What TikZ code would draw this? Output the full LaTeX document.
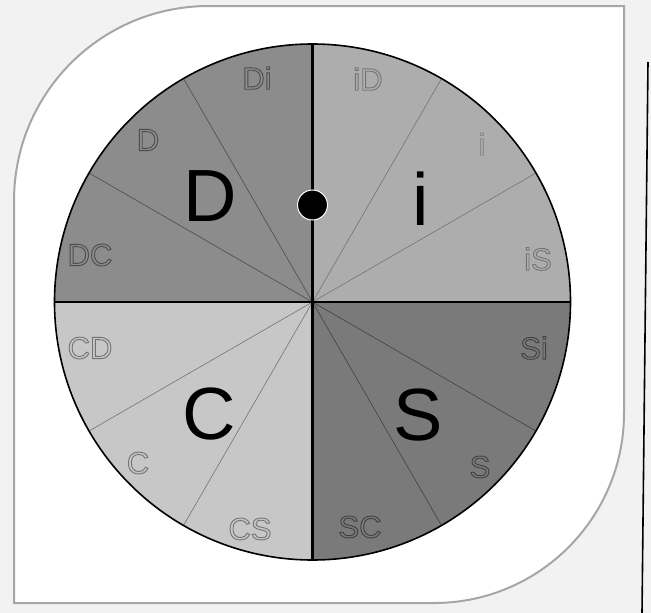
\documentclass[tikz,border=0pt]{standalone}
\usepackage{fontspec}
\setmainfont{Liberation Sans}
\colorlet{qD}{black!45}
\colorlet{qI}{black!32}
\colorlet{qC}{black!22}
\colorlet{qS}{black!52}
\colorlet{oD}{black!70}
\colorlet{oI}{black!55}
\colorlet{oC}{black!55}
\colorlet{oS}{black!75}
\newcommand\outlinetxt[1]{\special{pdf:literal direct 1 Tr 0.9 w}#1\special{pdf:literal direct 0 Tr}}
\begin{document}
\begin{tikzpicture}[x=1pt,y=-1pt,
  big/.style={inner sep=0pt, font=\fontsize{74}{74}\selectfont},
  small/.style={inner sep=0pt, font=\fontsize{31}{31}\selectfont},
  radial/.style={line width=0.6pt},
  frameline/.style={draw=black!35, line width=2pt}]
\useasboundingbox (0,0) rectangle (651,613);
\fill[black!5] (0,0) rectangle (651,613);
% card
\path[fill=white, frameline] (14,201) .. controls (14,93) and (101,6) .. (209,6)
  -- (624,6) -- (624,413) .. controls (624,518) and (539,603) .. (434,603)
  -- (14,603) -- cycle;
\draw[line width=1.6pt] (648,62) -- (642,613);
% disc
\coordinate (O) at (312.5,302);
\fill[qI] (O) -- ++(0:258pt) arc[start angle=0, end angle=90, radius=258pt] -- cycle;
\fill[qD] (O) -- ++(90:258pt) arc[start angle=90, end angle=180, radius=258pt] -- cycle;
\fill[qC] (O) -- ++(180:258pt) arc[start angle=180, end angle=270, radius=258pt] -- cycle;
\fill[qS] (O) -- ++(270:258pt) arc[start angle=270, end angle=360, radius=258pt] -- cycle;
\foreach \a in {120,150}{\draw[radial, oD] (O) -- ++(\a:258pt);}
\foreach \a in {30,60}{\draw[radial, oI] (O) -- ++(\a:258pt);}
\foreach \a in {210,240}{\draw[radial, oC] (O) -- ++(\a:258pt);}
\foreach \a in {300,330}{\draw[radial, oS] (O) -- ++(\a:258pt);}
\coordinate (T) at (312.5,44);
\coordinate (B) at (312.5,560);
\coordinate (L) at (54.5,302);
\coordinate (R) at (570.5,302);
\draw[line width=2.2pt] (T) -- (B);
\draw[line width=2.2pt] (L) -- (R);
\draw[line width=1.6pt] (O) circle[radius=258pt];
% small labels (hollow letters)
\node[small, text=oD] (lDi) at (257,78) {\outlinetxt{Di}};
\node[small, text=oD] (lD) at (148,140) {\outlinetxt{D}};
\node[small, text=oD] (lDC) at (90,255) {\outlinetxt{DC}};
\node[small, text=oI] (liD) at (368,79) {\outlinetxt{iD}};
\node[small, text=qI!80!black] (li) at (482,144) {\outlinetxt{i}};
\node[small, text=oI] (liS) at (538,259) {\outlinetxt{iS}};
\node[small, text=oS] (lSi) at (534,348) {\outlinetxt{Si}};
\node[small, text=oS] (lS) at (480,467) {\outlinetxt{S}};
\node[small, text=oS] (lSC) at (360,527) {\outlinetxt{SC}};
\node[small, text=oC] (lCS) at (250,529) {\outlinetxt{CS}};
\node[small, text=oC] (lC) at (138,463) {\outlinetxt{C}};
\node[small, text=oC] (lCD) at (90,348) {\outlinetxt{CD}};
% big letters
\node[big] (bD) at (210,196) {D};
\node[big] (bI) at (421,199) {i};
\node[big] (bC) at (209,414) {C};
\node[big] (bS) at (418,415) {S};
\node[circle, fill=black, draw=white, line width=1pt, minimum size=30pt, inner sep=0pt] (dot) at (312.5,205) {};
\end{tikzpicture}
\end{document}
